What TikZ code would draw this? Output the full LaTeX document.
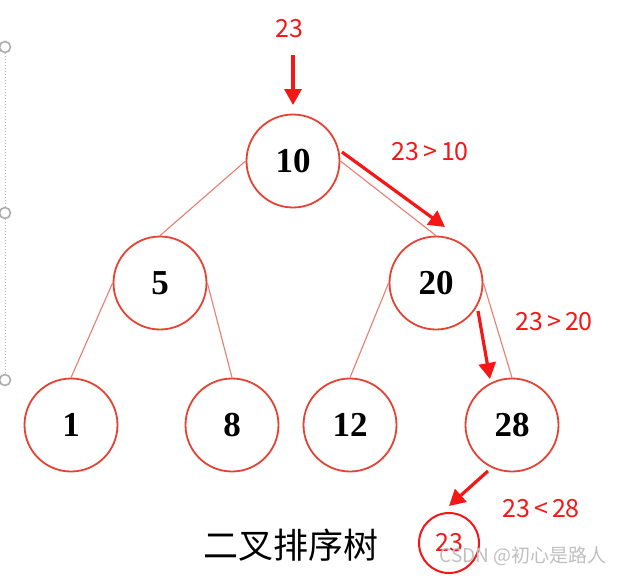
\documentclass[tikz,border=0pt]{standalone}
\usepackage{fontspec}
\setmainfont{Liberation Serif}
\newfontfamily\cjk{Noto Sans CJK SC}
\usetikzlibrary{arrows.meta}
\definecolor{nodered}{RGB}{228,66,50}
\definecolor{linkred}{RGB}{232,125,112}
\definecolor{arrred}{RGB}{245,22,22}

\begin{document}
\begin{tikzpicture}[
  x=1pt,y=-1pt,
  key/.style={circle,draw=nodered,line width=1.8pt,minimum size=93pt,inner sep=0pt,
    font=\fontsize{35}{35}\selectfont\bfseries},
  link/.style={draw=linkred,line width=1.1pt},
  ar/.style={-{Triangle[length=16pt,width=17pt]},line width=3.2pt,draw=arrred},
  lab/.style={text=arrred,font=\cjk\fontsize{25}{25}\selectfont},
  handle/.style={circle,draw=gray!65,line width=1.6pt,fill=white,minimum size=11pt,inner sep=0pt}]

 \useasboundingbox (0,0) rectangle (625,576);

 % ---- selection handles ----
 \node[handle] (h1) at (5,47) {};
 \node[handle] (h2) at (5,213) {};
 \node[handle] (h3) at (5,380) {};
 \draw[gray!60,dotted,line width=1pt] (h1) -- (h2) -- (h3);

 % ---- tree ----
 \node[key] (n10) at (293,161) {10};
 \node[key] (n5)  at (160,283) {5};
 \node[key] (n20) at (436,283) {20};
 \node[key] (n1)  at (71,425)  {1};
 \node[key] (n8)  at (232,425) {8};
 \node[key] (n12) at (350,425) {12};
 \node[key] (n28) at (512,425) {28};
 \draw[link] (n10.west) -- (n5.north);
 \draw[link] (n10.east) -- (n20.north);
 \draw[link] (n5.west) -- (n1.north);
 \draw[link] (n5.east) -- (n8.north);
 \draw[link] (n20.west) -- (n12.north);
 \draw[link] (n20.east) -- (n28.north);

 % ---- search path for 23 ----
 \node[lab] (in) at (289,29) {23};
 \node[lab] (c1) at (430,152) {23\,>\,10};
 \node[lab] (c2) at (554,322) {23\,>\,20};
 \node[lab] (c3) at (541,509) {23\,<\,28};
 \coordinate (a1s) at (293,55);  \coordinate (a1e) at (293,105);
 \coordinate (a2s) at (342,152); \coordinate (a2e) at (445,227);
 \coordinate (a3s) at (478,311); \coordinate (a3e) at (490,379);
 \coordinate (a4s) at (488,471); \coordinate (a4e) at (449,506);
 \draw[ar] (a1s) -- (a1e);
 \draw[ar] (a2s) -- (a2e);
 \draw[ar] (a3s) -- (a3e);
 \draw[ar] (a4s) -- (a4e);
 \node[circle,draw=arrred,line width=2pt,minimum size=60pt,inner sep=0pt,
   text=arrred,font=\cjk\fontsize{25}{25}\selectfont] (new) at (449,543) {23};

 % ---- caption ----
 \node[font=\cjk\fontsize{35}{35}\selectfont] (title) at (291,545) {二叉排序树};
 \node[text=gray!50,font=\cjk\fontsize{19}{19}\selectfont] (mark) at (523,556) {CSDN @初心是路人};
\end{tikzpicture}
\end{document}
